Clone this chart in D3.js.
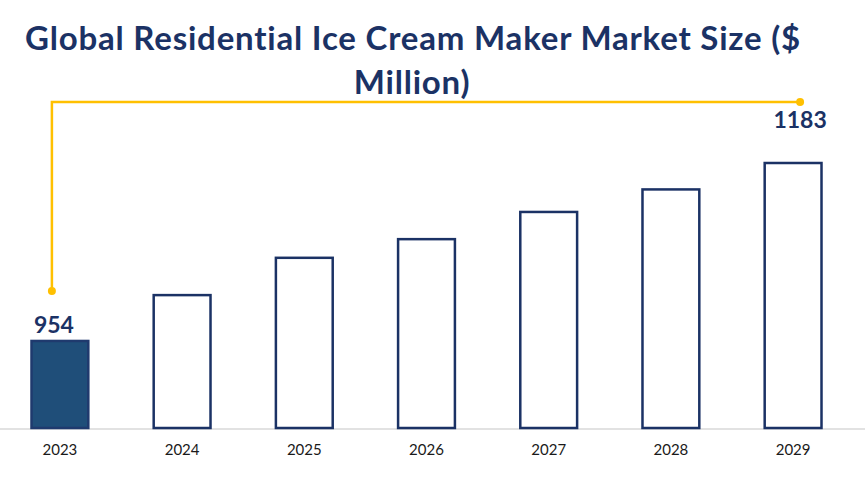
<!DOCTYPE html>
<html><head><meta charset="utf-8">
<script src="https://cdn.jsdelivr.net/npm/d3@7"></script>
<style>body{margin:0;background:#fff;} svg{display:block;}</style>
</head><body>
<svg id="c" width="865" height="479"></svg>
<script>
const years = ["2023","2024","2025","2026","2027","2028","2029"];
const values = [954, 1013, 1061, 1085, 1120, 1149, 1183];
const titleLines = ["Global Residential Ice Cream Maker Market Size ($", "Million)"];

const svg = d3.select("#c");
const W = 865, H = 479;
const navy = "#1b3265";
const x = d3.scaleBand().domain(years).range([-1.5, 854.5]).paddingInner(0.535).paddingOuter(0.27);
const y = d3.scaleLinear().domain([842, 1183]).range([428, 163]);

// title
const font = "Lato, 'Open Sans', sans-serif";
svg.append("text").attr("x", 413).attr("y", 50).attr("text-anchor", "middle")
  .attr("font-family", font).attr("font-weight", "bold").attr("font-size", 33)
  .attr("letter-spacing", 0.8)
  .attr("fill", navy).text(titleLines[0]);
svg.append("text").attr("x", 412).attr("y", 94).attr("text-anchor", "middle")
  .attr("font-family", font).attr("font-weight", "bold").attr("font-size", 33)
  .attr("letter-spacing", 0.8)
  .attr("fill", navy).text(titleLines[1]);

// axis line
svg.append("line").attr("x1", 0).attr("x2", W).attr("y1", 429).attr("y2", 429)
  .attr("stroke", "#d9d9d9").attr("stroke-width", 1.5);

// bars
svg.selectAll("rect.bar").data(years).join("rect").attr("class", "bar")
  .attr("x", d => x(d)).attr("width", x.bandwidth())
  .attr("y", (d,i) => y(values[i])).attr("height", (d,i) => y.range()[0] - y(values[i]))
  .attr("fill", (d,i) => i === 0 ? "#1f4e79" : "#fff")
  .attr("stroke", (d,i) => i === 0 ? "#1f3a6e" : navy).attr("stroke-width", 2.5);

// x labels
svg.selectAll("text.xl").data(years).join("text").attr("class", "xl")
  .attr("x", d => x(d) + x.bandwidth()/2).attr("y", 455).attr("text-anchor", "middle")
  .attr("font-family", font).attr("font-size", 15).attr("fill", "#1a1a1a").text(d => d);

// gold connector
const first = years[0], last = years[years.length-1];
const x0 = x(first) + x.bandwidth()/2 - 8, x1 = x(last) + x.bandwidth()/2 + 7;
const topY = 102, y0 = y(values[0]) - 50;
svg.append("path").attr("d", `M${x0},${y0} V${topY} H${x1}`)
  .attr("fill", "none").attr("stroke", "#ffc000").attr("stroke-width", 2.5);
svg.append("circle").attr("cx", x0).attr("cy", y0).attr("r", 4).attr("fill", "#ffc000");
svg.append("circle").attr("cx", x1).attr("cy", topY).attr("r", 4).attr("fill", "#ffc000");

// value labels
svg.append("text").attr("x", x(first) + x.bandwidth()/2 - 6).attr("y", y(values[0]) - 8)
  .attr("text-anchor", "middle").attr("font-family", font).attr("font-weight", "bold")
  .attr("font-size", 23).attr("fill", navy).text(values[0]);
svg.append("text").attr("x", x1).attr("y", 128)
  .attr("text-anchor", "middle").attr("font-family", font).attr("font-weight", "bold")
  .attr("font-size", 23).attr("fill", navy).text(values[values.length-1]);
</script>
</body></html>
